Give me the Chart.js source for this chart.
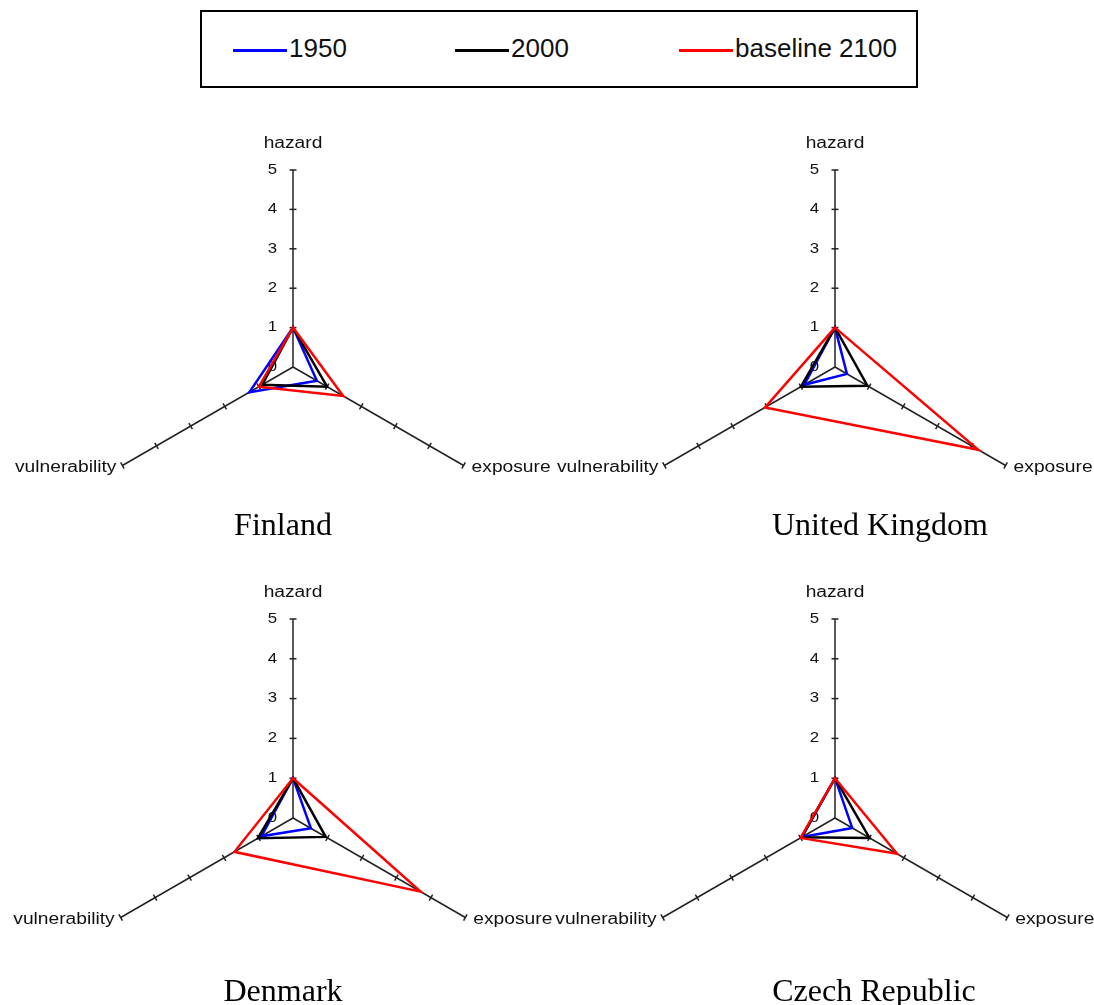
<!DOCTYPE html>
<html>
<head>
<meta charset="utf-8">
<script src="https://cdn.jsdelivr.net/npm/chart.js@4.4.1/dist/chart.umd.min.js"></script>
<style>
  html, body { margin: 0; padding: 0; background: #fff; overflow: hidden; }
  body { width: 1094px; height: 1005px; position: relative; }
  canvas { position: absolute; }
  #legend {
    position: absolute; left: 200px; top: 10px; width: 718px; height: 78px;
    box-sizing: border-box; border: 2.5px solid #000;
    font-family: "Liberation Sans", Arial, sans-serif; font-size: 26px; color: #111;
  }
  .swatch { position: absolute; top: 37px; width: 54px; height: 3px; }
  .ltext { position: absolute; top: 21px; line-height: 30px; }
  .title {
    position: absolute; width: 400px; text-align: center;
    font-family: "Liberation Serif", "Times New Roman", serif; font-size: 32px; line-height: 32px; color: #000;
  }
</style>
</head>
<body>
<div id="legend"></div>
<canvas id="c0" width="560" height="490"></canvas>
<canvas id="c1" width="560" height="490"></canvas>
<canvas id="c2" width="560" height="490"></canvas>
<canvas id="c3" width="560" height="490"></canvas>

<script>
// axes and scale
const axisLabels = ['hazard', 'exposure', 'vulnerability'];
const tickValues = [0, 1, 2, 3, 4, 5];

// series
const seriesNames = ['1950', '2000', 'baseline 2100'];
const seriesColors = ['#0000ff', '#000000', '#ff0000'];

// values per country: [hazard, exposure, vulnerability]
const finland1950 = [1, 0.7, 1.28];
const finland2000 = [1, 1.0, 0.9];
const finland2100 = [1, 1.47, 1.0];

const uk1950 = [1, 0.35, 0.9];
const uk2000 = [1, 0.95, 1.0];
const uk2100 = [1, 4.2, 2.05];

const denmark1950 = [1, 0.52, 0.92];
const denmark2000 = [1, 0.95, 1.02];
const denmark2100 = [1, 3.7, 1.7];

const czech1950 = [1, 0.5, 0.96];
const czech2000 = [1, 1.0, 0.97];
const czech2100 = [1, 1.8, 1.0];

const countries = ['Finland', 'United Kingdom', 'Denmark', 'Czech Republic'];
const countryData = [
    [finland1950, finland2000, finland2100],
    [uk1950, uk2000, uk2100],
    [denmark1950, denmark2000, denmark2100],
    [czech1950, czech2000, czech2100]
];

// page layout: radar centre, radius, title centre
const panels = [
    { cx: 293, cy: 367, r: 197, tx: 283, ty: 508 },
    { cx: 835, cy: 367, r: 197, tx: 880, ty: 508 },
    { cx: 293, cy: 818, r: 199, tx: 283, ty: 974 },
    { cx: 835, cy: 818, r: 199, tx: 874, ty: 974 }
];

const CANVAS_W = 560, CANVAS_H = 490, LOCAL_CX = 300, LOCAL_CY = 242;
const STRETCH = 1.2;

// legend
const legend = document.getElementById('legend');
const legendX = [31, 253, 477];
seriesNames.forEach((name, i) => {
    const sw = document.createElement('div');
    sw.className = 'swatch';
    sw.style.left = legendX[i] + 'px';
    sw.style.background = seriesColors[i];
    legend.appendChild(sw);
    const t = document.createElement('div');
    t.className = 'ltext';
    t.style.left = (legendX[i] + 56) + 'px';
    t.textContent = name;
    legend.appendChild(t);
});

function stretchedText(ctx, text, x, y, align) {
    ctx.save();
    ctx.translate(x, y);
    ctx.scale(STRETCH, 1);
    ctx.textAlign = align;
    ctx.textBaseline = 'middle';
    ctx.fillText(text, 0, 0);
    ctx.restore();
}

// ticks, tick labels and axis labels
const radarDecor = {
    id: 'radarDecor',
    beforeDatasetsDraw(chart) {
        const ctx = chart.ctx;
        const scale = chart.scales.r;
        ctx.save();
        ctx.strokeStyle = '#222';
        ctx.lineWidth = 1.5;
        for (let i = 0; i < axisLabels.length; i++) {
            const theta = scale.getIndexAngle(i) - Math.PI / 2;
            const px = -Math.sin(theta), py = Math.cos(theta);
            tickValues.forEach(v => {
                if (v === 0) return;
                const p = scale.getPointPositionForValue(i, v);
                ctx.beginPath();
                ctx.moveTo(p.x - px * 3.5, p.y - py * 3.5);
                ctx.lineTo(p.x + px * 3.5, p.y + py * 3.5);
                ctx.stroke();
            });
        }
        ctx.fillStyle = '#111';
        ctx.font = '14px "Liberation Sans", Arial, sans-serif';
        tickValues.forEach(v => {
            const p = scale.getPointPositionForValue(0, v);
            stretchedText(ctx, String(v), p.x - 16, p.y, 'right');
        });
        ctx.font = '16px "Liberation Sans", Arial, sans-serif';
        const top = scale.getPointPositionForValue(0, 5);
        stretchedText(ctx, axisLabels[0], top.x, top.y - 26, 'center');
        const right = scale.getPointPositionForValue(1, 5);
        stretchedText(ctx, axisLabels[1], right.x + 8, right.y + 2, 'left');
        const left = scale.getPointPositionForValue(2, 5);
        stretchedText(ctx, axisLabels[2], left.x - 6, left.y + 2, 'right');
        ctx.restore();
    }
};

function makeChart(idx) {
    const p = panels[idx];
    const canvas = document.getElementById('c' + idx);
    canvas.style.left = (p.cx - LOCAL_CX) + 'px';
    canvas.style.top = (p.cy - LOCAL_CY) + 'px';

    const title = document.createElement('div');
    title.className = 'title';
    title.style.left = (p.tx - 200) + 'px';
    title.style.top = p.ty + 'px';
    title.textContent = countries[idx];
    document.body.appendChild(title);

    const datasets = countryData[idx].map((values, s) => ({
        label: seriesNames[s],
        data: values,
        borderColor: seriesColors[s],
        borderWidth: 2.5,
        pointRadius: 0,
        fill: false,
        tension: 0,
        order: 2 - s
    }));

    new Chart(canvas.getContext('2d'), {
        type: 'radar',
        data: { labels: axisLabels, datasets: datasets },
        options: {
            responsive: false,
            animation: false,
            events: [],
            layout: {
                padding: {
                    left: LOCAL_CX - p.r,
                    top: LOCAL_CY - p.r,
                    right: CANVAS_W - LOCAL_CX - p.r,
                    bottom: CANVAS_H - LOCAL_CY - p.r
                }
            },
            plugins: { legend: { display: false }, tooltip: { enabled: false } },
            scales: {
                r: {
                    min: 0,
                    max: 5,
                    ticks: { display: false, stepSize: 1 },
                    grid: { display: false },
                    pointLabels: { display: false },
                    angleLines: { color: '#222', lineWidth: 1.5 }
                }
            }
        },
        plugins: [radarDecor]
    });
}

document.addEventListener('DOMContentLoaded', function() {
    for (let i = 0; i < 4; i++) makeChart(i);
});
</script>
</body>
</html>
